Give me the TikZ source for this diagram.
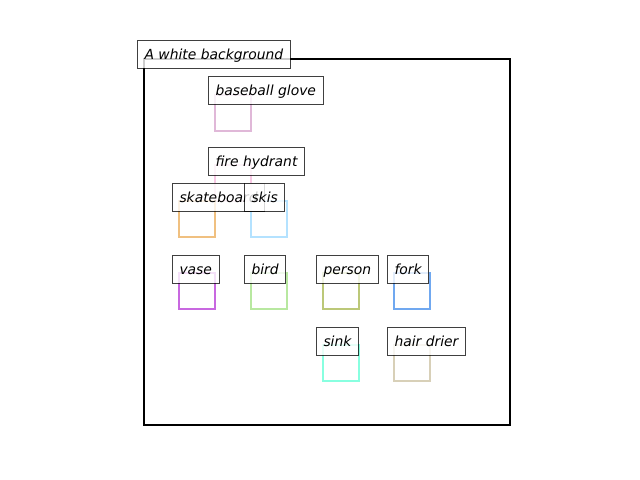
\documentclass[tikz,border=0pt]{standalone}
\usepackage{fontspec}
\setmainfont{DejaVu Sans}
\definecolor{cglove}{HTML}{E0B8D8}
\definecolor{chydrant}{HTML}{F8C8E4}
\definecolor{cskate}{HTML}{F0C080}
\definecolor{cskis}{HTML}{B4E2FF}
\definecolor{cvase}{HTML}{C868E0}
\definecolor{cbird}{HTML}{B8E8A0}
\definecolor{cperson}{HTML}{BCC878}
\definecolor{cfork}{HTML}{70A8F0}
\definecolor{csink}{HTML}{88FFE0}
\definecolor{cdrier}{HTML}{D8D0B8}
\begin{document}
\begin{tikzpicture}[x=0.72pt,y=-0.72pt,
    sq/.style={draw=#1,line width=1.44pt,minimum size=25.92pt,inner sep=0pt},
    lbl/.style={draw=black,draw opacity=0.75,fill=white,fill opacity=0.8,text opacity=1,
      line width=0.72pt,anchor=west,inner xsep=5.04pt,inner ysep=5.28pt,
      text height=8.4pt,text depth=1.2pt,
      font=\fontsize{10}{12}\selectfont\itshape}]
    \useasboundingbox (0,0) rectangle (640,480);
    \draw [line width=1.44pt] (144,59) rectangle (510,425);
%    squares
    \node[sq=cglove] (glove) at (233,112.5) {};
    \node[sq=chydrant] (hydrant) at (233,183) {};
    \node[sq=cskate] (skate) at (197,219) {};
    \node[sq=cskis] (skis) at (269,219) {};
    \node[sq=cvase] (vase) at (197,291) {};
    \node[sq=cbird] (bird) at (269,291) {};
    \node[sq=cperson] (person) at (340.5,291) {};
    \node[sq=cfork] (fork) at (412,291) {};
    \node[sq=csink] (sink) at (340.5,362.5) {};
    \node[sq=cdrier] (drier) at (412,362.5) {};
%    labels
    \node[lbl] (bg) at (137,54) {A white background};
    \node[lbl] (gloveL) at (208,90) {baseball glove};
    \node[lbl] (hydrantL) at (208,161) {fire hydrant};
    \node[lbl] (skateL) at (172,197) {skateboard};
    \node[lbl] (skisL) at (244,197) {skis};
    \node[lbl] (vaseL) at (172,269) {vase};
    \node[lbl] (birdL) at (244,269) {bird};
    \node[lbl] (personL) at (316,269) {person};
    \node[lbl] (forkL) at (387,269) {fork};
    \node[lbl] (sinkL) at (316,341) {sink};
    \node[lbl] (drierL) at (387,341) {hair drier};
\end{tikzpicture}
\end{document}
